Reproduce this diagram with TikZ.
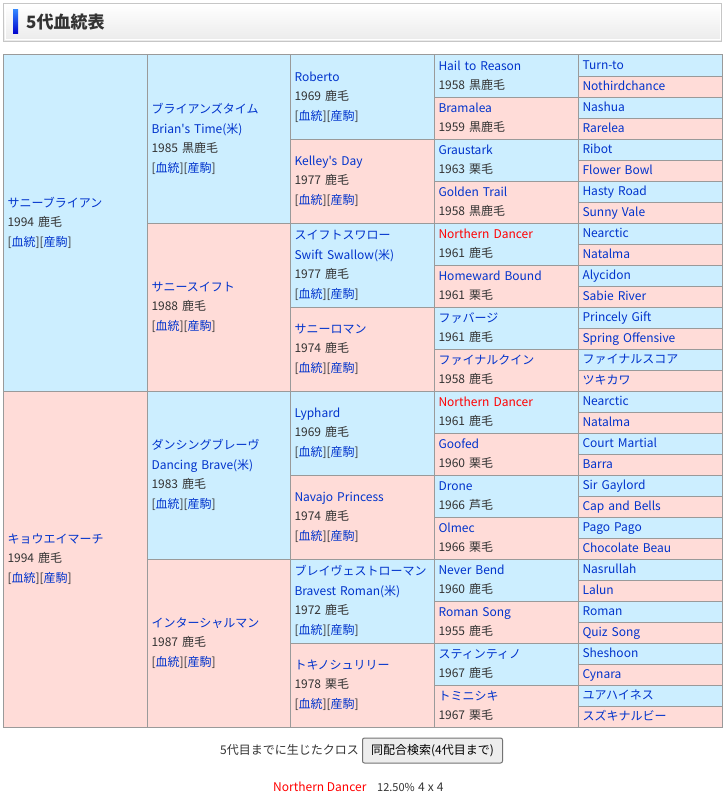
\documentclass[tikz,border=0pt]{standalone}
\usepackage{fontspec}
\setmainfont{Noto Sans CJK JP}[Ligatures=TeXOff]
\definecolor{sirebg}{HTML}{CCEEFF}
\definecolor{dambg}{HTML}{FFDCD8}
\definecolor{rule}{HTML}{9A9A9A}
\definecolor{link}{HTML}{0033CC}
\definecolor{ink}{HTML}{333333}
\definecolor{cross}{HTML}{FF0000}
\newcommand{\lnk}[1]{\textcolor{link}{#1}}
\newcommand{\pedlinks}{[\lnk{血統}][\lnk{産駒}]}
\tikzset{
  cell/.style={draw=rule, line width=1pt, anchor=north west, text width=135pt,
    inner xsep=4.5pt, inner ysep=0pt, outer sep=0pt, align=left, text=ink,
    font=\fontsize{12}{19.5}\selectfont,
    execute at begin node=\strut, execute at end node=\strut},
  sire/.style={cell, fill=sirebg},
  dam/.style={cell, fill=dambg},
  gen1/.style={minimum height=336pt},
  gen2/.style={minimum height=168pt},
  gen3/.style={minimum height=84pt},
  gen4/.style={minimum height=42pt},
  gen5/.style={minimum height=21pt},
  plain/.style={text=ink, inner sep=0pt, font=\fontsize{12}{14}\selectfont}
}
\begin{document}
\begin{tikzpicture}[x=1pt, y=-1pt]
    \useasboundingbox (0,0) rectangle (726,800);

    % heading bar
    \draw[draw=gray!45, line width=1pt, top color=white, bottom color=gray!16] (3.5,3.5) rectangle (721.5,41.5);
    \draw[draw=white, line width=1pt] (5,5) rectangle (720,40);
    \fill[top color=blue!60!cyan!80!white, bottom color=blue!80!black] (13,10) rectangle (18,34);
    \node[anchor=west, text=ink, inner sep=0pt, font=\fontsize{17}{20}\selectfont\bfseries] (title) at (26,22) {5代血統表};

    % generation 1
    \node[sire, gen1] (s) at (3,55) {\lnk{サニーブライアン}\\1994 鹿毛\\\pedlinks};
    \node[dam, gen1] (d) at (3,391) {\lnk{キョウエイマーチ}\\1994 鹿毛\\\pedlinks};

    % generation 2
    \node[sire, gen2] (ss) at (147,55) {\lnk{ブライアンズタイム}\\\lnk{Brian's Time(米)}\\1985 黒鹿毛\\\pedlinks};
    \node[dam, gen2] (sd) at (147,223) {\lnk{サニースイフト}\\1988 鹿毛\\\pedlinks};
    \node[sire, gen2] (ds) at (147,391) {\lnk{ダンシングブレーヴ}\\\lnk{Dancing Brave(米)}\\1983 鹿毛\\\pedlinks};
    \node[dam, gen2] (dd) at (147,559) {\lnk{インターシャルマン}\\1987 鹿毛\\\pedlinks};

    % generation 3
    \node[sire, gen3] (sss) at (290,55) {\lnk{Roberto}\\1969 鹿毛\\\pedlinks};
    \node[dam, gen3] (ssd) at (290,139) {\lnk{Kelley's Day}\\1977 鹿毛\\\pedlinks};
    \node[sire, gen3] (sds) at (290,223) {\lnk{スイフトスワロー}\\\lnk{Swift Swallow(米)}\\1977 鹿毛\\\pedlinks};
    \node[dam, gen3] (sdd) at (290,307) {\lnk{サニーロマン}\\1974 鹿毛\\\pedlinks};
    \node[sire, gen3] (dss) at (290,391) {\lnk{Lyphard}\\1969 鹿毛\\\pedlinks};
    \node[dam, gen3] (dsd) at (290,475) {\lnk{Navajo Princess}\\1974 鹿毛\\\pedlinks};
    \node[sire, gen3] (dds) at (290,559) {\lnk{ブレイヴェストローマン}\\\lnk{Bravest Roman(米)}\\1972 鹿毛\\\pedlinks};
    \node[dam, gen3] (ddd) at (290,643) {\lnk{トキノシュリリー}\\1978 栗毛\\\pedlinks};

    % generation 4
    \node[sire, gen4] (ssss) at (434,55) {\lnk{Hail to Reason}\\1958 黒鹿毛};
    \node[dam, gen4] (sssd) at (434,97) {\lnk{Bramalea}\\1959 黒鹿毛};
    \node[sire, gen4] (ssds) at (434,139) {\lnk{Graustark}\\1963 栗毛};
    \node[dam, gen4] (ssdd) at (434,181) {\lnk{Golden Trail}\\1958 黒鹿毛};
    \node[sire, gen4] (sdss) at (434,223) {\textcolor{cross}{Northern Dancer}\\1961 鹿毛};
    \node[dam, gen4] (sdsd) at (434,265) {\lnk{Homeward Bound}\\1961 栗毛};
    \node[sire, gen4] (sdds) at (434,307) {\lnk{ファバージ}\\1961 鹿毛};
    \node[dam, gen4] (sddd) at (434,349) {\lnk{ファイナルクイン}\\1958 鹿毛};
    \node[sire, gen4] (dsss) at (434,391) {\textcolor{cross}{Northern Dancer}\\1961 鹿毛};
    \node[dam, gen4] (dssd) at (434,433) {\lnk{Goofed}\\1960 栗毛};
    \node[sire, gen4] (dsds) at (434,475) {\lnk{Drone}\\1966 芦毛};
    \node[dam, gen4] (dsdd) at (434,517) {\lnk{Olmec}\\1966 栗毛};
    \node[sire, gen4] (ddss) at (434,559) {\lnk{Never Bend}\\1960 鹿毛};
    \node[dam, gen4] (ddsd) at (434,601) {\lnk{Roman Song}\\1955 鹿毛};
    \node[sire, gen4] (ddds) at (434,643) {\lnk{スティンティノ}\\1967 鹿毛};
    \node[dam, gen4] (dddd) at (434,685) {\lnk{トミニシキ}\\1967 栗毛};

    % generation 5
    \node[sire, gen5] (sssss) at (578,55) {\lnk{Turn-to}};
    \node[dam, gen5] (ssssd) at (578,76) {\lnk{Nothirdchance}};
    \node[sire, gen5] (sssds) at (578,97) {\lnk{Nashua}};
    \node[dam, gen5] (sssdd) at (578,118) {\lnk{Rarelea}};
    \node[sire, gen5] (ssdss) at (578,139) {\lnk{Ribot}};
    \node[dam, gen5] (ssdsd) at (578,160) {\lnk{Flower Bowl}};
    \node[sire, gen5] (ssdds) at (578,181) {\lnk{Hasty Road}};
    \node[dam, gen5] (ssddd) at (578,202) {\lnk{Sunny Vale}};
    \node[sire, gen5] (sdsss) at (578,223) {\lnk{Nearctic}};
    \node[dam, gen5] (sdssd) at (578,244) {\lnk{Natalma}};
    \node[sire, gen5] (sdsds) at (578,265) {\lnk{Alycidon}};
    \node[dam, gen5] (sdsdd) at (578,286) {\lnk{Sabie River}};
    \node[sire, gen5] (sddss) at (578,307) {\lnk{Princely Gift}};
    \node[dam, gen5] (sddsd) at (578,328) {\lnk{Spring Offensive}};
    \node[sire, gen5] (sddds) at (578,349) {\lnk{ファイナルスコア}};
    \node[dam, gen5] (sdddd) at (578,370) {\lnk{ツキカワ}};
    \node[sire, gen5] (dssss) at (578,391) {\lnk{Nearctic}};
    \node[dam, gen5] (dsssd) at (578,412) {\lnk{Natalma}};
    \node[sire, gen5] (dssds) at (578,433) {\lnk{Court Martial}};
    \node[dam, gen5] (dssdd) at (578,454) {\lnk{Barra}};
    \node[sire, gen5] (dsdss) at (578,475) {\lnk{Sir Gaylord}};
    \node[dam, gen5] (dsdsd) at (578,496) {\lnk{Cap and Bells}};
    \node[sire, gen5] (dsdds) at (578,517) {\lnk{Pago Pago}};
    \node[dam, gen5] (dsddd) at (578,538) {\lnk{Chocolate Beau}};
    \node[sire, gen5] (ddsss) at (578,559) {\lnk{Nasrullah}};
    \node[dam, gen5] (ddssd) at (578,580) {\lnk{Lalun}};
    \node[sire, gen5] (ddsds) at (578,601) {\lnk{Roman}};
    \node[dam, gen5] (ddsdd) at (578,622) {\lnk{Quiz Song}};
    \node[sire, gen5] (dddss) at (578,643) {\lnk{Sheshoon}};
    \node[dam, gen5] (dddsd) at (578,664) {\lnk{Cynara}};
    \node[sire, gen5] (dddds) at (578,685) {\lnk{ユアハイネス}};
    \node[dam, gen5] (ddddd) at (578,706) {\lnk{スズキナルビー}};

    % inbreeding summary
    \node[plain, anchor=east] (crossnote) at (359,750) {5代目までに生じたクロス};
    \node[plain, draw=gray!110, fill=gray!14, line width=1pt, rounded corners=2pt,
          minimum width=140pt, minimum height=25pt, text=black] (searchbtn) at (432.5,750.5) {同配合検索(4代目まで)};
    \node[plain, anchor=west, text=cross] (crossname) at (273,787) {Northern Dancer};
    \node[plain, anchor=west, font=\fontsize{11}{13}\selectfont] (crossrate) at (377,787) {12.50\%};
    \node[plain, anchor=west] (crossgen) at (418,787) {4\hspace{3pt}x\hspace{3pt}4};
\end{tikzpicture}
\end{document}
